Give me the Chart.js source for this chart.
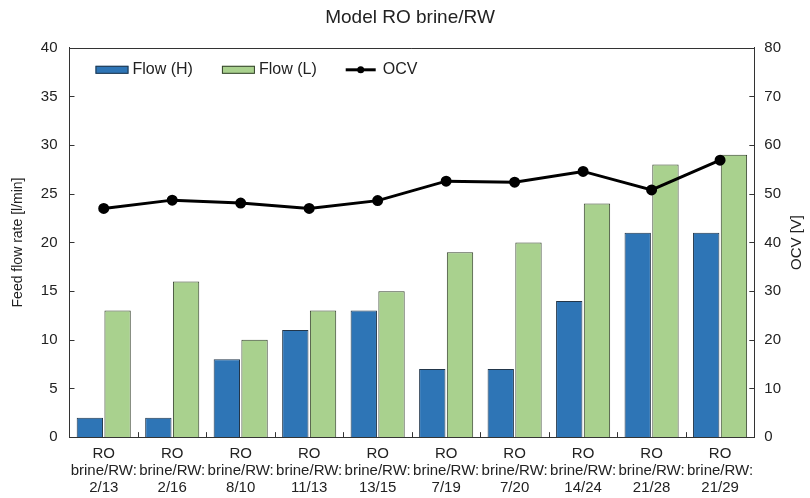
<!DOCTYPE html>
<html>
<head>
<meta charset="utf-8">
<script src="https://cdn.jsdelivr.net/npm/chart.js@4"></script>
<style>
    body { margin: 0; background: #fff; }
    #wrap { width: 810px; height: 498px; }
</style>
</head>
<body>
<div id="wrap"><canvas id="roChart"></canvas></div>
<script>
// 카테고리 (x축 라벨)
const categories = [
    ['RO', 'brine/RW:', '2/13'],
    ['RO', 'brine/RW:', '2/16'],
    ['RO', 'brine/RW:', '8/10'],
    ['RO', 'brine/RW:', '11/13'],
    ['RO', 'brine/RW:', '13/15'],
    ['RO', 'brine/RW:', '7/19'],
    ['RO', 'brine/RW:', '7/20'],
    ['RO', 'brine/RW:', '14/24'],
    ['RO', 'brine/RW:', '21/28'],
    ['RO', 'brine/RW:', '21/29']
];

// 유량 (l/min)
const flowH = [2, 2, 8, 11, 13, 7, 7, 14, 21, 21];
const flowL = [13, 16, 10, 13, 15, 19, 20, 24, 28, 29];

// OCV (V)
const ocv = [47, 48.7, 48.1, 47, 48.6, 52.6, 52.4, 54.6, 50.8, 56.9];

const fontFamily = '"Liberation Sans", Arial, sans-serif';
const textColor = '#222';

// 안쪽 방향 눈금 + 범례 + 오른쪽 축 제목
const insideStuff = {
    id: 'insideStuff',
    afterDraw(chart) {
        const ctx = chart.ctx;
        const area = chart.chartArea;
        ctx.save();
        ctx.strokeStyle = '#333';
        ctx.lineWidth = 1;

        // 위쪽 테두리
        ctx.beginPath();
        ctx.moveTo(area.left, Math.round(area.top) + 0.5);
        ctx.lineTo(area.right, Math.round(area.top) + 0.5);
        ctx.stroke();

        // 왼쪽 y축 눈금
        const yL = chart.scales.y;
        yL.ticks.forEach(t => {
            const py = Math.round(yL.getPixelForValue(t.value)) + 0.5;
            ctx.beginPath();
            ctx.moveTo(area.left, py);
            ctx.lineTo(area.left + 5, py);
            ctx.stroke();
        });
        // 오른쪽 y축 눈금
        const yR = chart.scales.y1;
        yR.ticks.forEach(t => {
            const py = Math.round(yR.getPixelForValue(t.value)) + 0.5;
            ctx.beginPath();
            ctx.moveTo(area.right, py);
            ctx.lineTo(area.right - 5, py);
            ctx.stroke();
        });
        // x축 카테고리 경계 눈금
        const xs = chart.scales.x;
        for (let i = 1; i < categories.length; i++) {
            const px = Math.round((xs.getPixelForTick(i - 1) + xs.getPixelForTick(i)) / 2) + 0.5;
            ctx.beginPath();
            ctx.moveTo(px, area.bottom);
            ctx.lineTo(px, area.bottom - 5);
            ctx.stroke();
        }

        // 오른쪽 축 제목 (아래→위 방향)
        ctx.save();
        ctx.translate(chart.width - 13, (area.top + area.bottom) / 2);
        ctx.rotate(-Math.PI / 2);
        ctx.font = '15px ' + fontFamily;
        ctx.fillStyle = textColor;
        ctx.textAlign = 'center';
        ctx.textBaseline = 'middle';
        ctx.fillText('OCV [V]', 0, 0);
        ctx.restore();

        // 범례
        ctx.font = '16px ' + fontFamily;
        ctx.textBaseline = 'middle';
        ctx.textAlign = 'left';
        const ly = area.top + 22;
        let lx = area.left + 26;
        chart.data.datasets.forEach(ds => {
            if (ds.type === 'line') {
                ctx.strokeStyle = ds.borderColor;
                ctx.lineWidth = 3;
                ctx.beginPath();
                ctx.moveTo(lx, ly);
                ctx.lineTo(lx + 30, ly);
                ctx.stroke();
                ctx.fillStyle = ds.borderColor;
                ctx.beginPath();
                ctx.arc(lx + 15, ly, 3.5, 0, Math.PI * 2);
                ctx.fill();
                lx += 37;
            } else {
                ctx.fillStyle = ds.backgroundColor;
                ctx.fillRect(lx, ly - 4, 33, 8);
                ctx.strokeStyle = ds.borderColor;
                ctx.lineWidth = 1;
                ctx.strokeRect(lx + 0.5, ly - 3.5, 32, 7);
                lx += 37;
            }
            ctx.fillStyle = textColor;
            ctx.fillText(ds.label, lx, ly);
            lx += ctx.measureText(ds.label).width + 29;
        });

        ctx.restore();
    }
};

const roChart = document.getElementById('roChart');

new Chart(roChart, {
    data: {
        labels: categories,
        datasets: [
            {
                type: 'bar',
                label: 'Flow (H)',
                data: flowH,
                backgroundColor: '#2E75B6',
                borderColor: '#22364a',
                borderWidth: 1,
                yAxisID: 'y',
                order: 2,
                barPercentage: 0.95,
                categoryPercentage: 0.81
            },
            {
                type: 'bar',
                label: 'Flow (L)',
                data: flowL,
                backgroundColor: '#A9D18E',
                borderColor: '#34402c',
                borderWidth: 1,
                yAxisID: 'y',
                order: 2,
                barPercentage: 0.95,
                categoryPercentage: 0.81
            },
            {
                type: 'line',
                label: 'OCV',
                data: ocv,
                borderColor: '#000',
                backgroundColor: '#000',
                borderWidth: 3,
                pointRadius: 4,
                pointBackgroundColor: '#000',
                pointBorderColor: '#000',
                lineTension: 0,
                yAxisID: 'y1',
                order: 1
            }
        ]
    },
    options: {
        responsive: true,
        maintainAspectRatio: false,
        animation: false,
        layout: {
            padding: { top: 0, left: 10, right: 0, bottom: -6 }
        },
        plugins: {
            legend: { display: false },
            tooltip: { enabled: false },
            title: {
                display: true,
                text: 'Model RO brine/RW',
                color: textColor,
                font: { family: fontFamily, size: 19, weight: 'normal' },
                padding: { top: 6, bottom: 19 }
            }
        },
        scales: {
            x: {
                offset: true,
                grid: { display: false, drawTicks: false },
                border: { display: true, color: '#333', width: 1 },
                ticks: {
                    color: textColor,
                    font: { family: fontFamily, size: 15, lineHeight: 1.13 },
                    maxRotation: 0,
                    autoSkip: false,
                    padding: 8
                }
            },
            y: {
                position: 'left',
                min: 0,
                max: 40,
                grid: { display: false, drawTicks: false },
                border: { display: true, color: '#333', width: 1 },
                ticks: {
                    stepSize: 5,
                    color: textColor,
                    font: { family: fontFamily, size: 15 },
                    padding: 12
                },
                title: {
                    display: true,
                    text: 'Feed flow rate [l/min]',
                    color: textColor,
                    font: { family: fontFamily, size: 14 },
                    padding: { top: 0, bottom: 2 }
                }
            },
            y1: {
                position: 'right',
                min: 0,
                max: 80,
                grid: { display: false, drawTicks: false },
                border: { display: true, color: '#333', width: 1 },
                ticks: {
                    stepSize: 10,
                    color: textColor,
                    font: { family: fontFamily, size: 15 },
                    padding: 10
                },
                title: {
                    // 자리만 잡고 실제 제목은 플러그인에서 그림
                    display: true,
                    text: 'OCV [V]',
                    color: 'rgba(0,0,0,0)',
                    font: { family: fontFamily, size: 15 },
                    padding: { top: 1, bottom: 0 }
                }
            }
        }
    },
    plugins: [insideStuff]
});
</script>
</body>
</html>
